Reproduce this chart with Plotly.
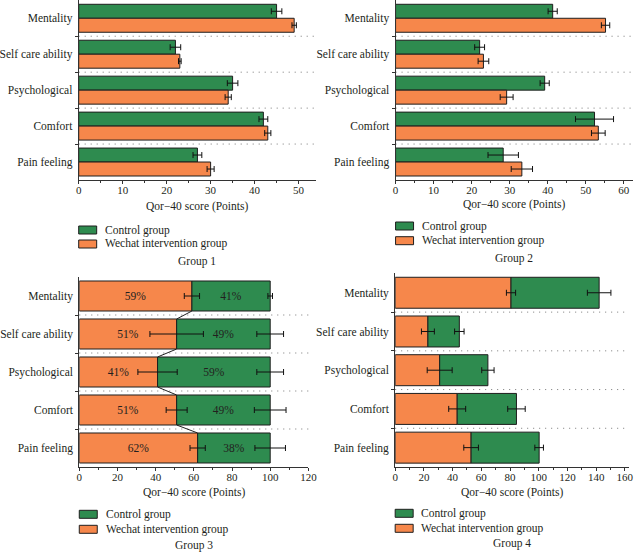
import plotly.graph_objects as go

# ---------------- data ----------------
categories = ["Mentality", "Self care ability", "Psychological", "Comfort", "Pain feeling"]
series_names = ["Control group", "Wechat intervention group"]

g1_control = [45, 22, 35, 42, 27]
g1_control_err = [1.2, 1.2, 1.2, 1.0, 1.0]
g1_wechat = [49, 23, 34, 43, 30]
g1_wechat_err = [0.5, 0.3, 0.7, 0.7, 0.8]

g2_control = [41.3, 22.1, 39.2, 52.3, 28.3]
g2_control_err = [1.2, 1.3, 1.2, 5.0, 4.0]
g2_wechat = [55.2, 23.1, 29.2, 53.3, 33.2]
g2_wechat_err = [1.1, 1.4, 1.7, 1.8, 2.8]

g3_wechat_pct = [59, 51, 41, 51, 62]
g3_wechat_err = [4, 14, 10.3, 5.5, 4]
g3_control_pct = [41, 49, 59, 49, 38]
g3_control_err = [1.2, 7, 7, 8.3, 8]

g4_wechat = [80.7, 22.8, 31.0, 43.2, 52.9]
g4_wechat_err = [3.2, 4.5, 8.7, 5.9, 5.1]
g4_control = [61.4, 21.9, 33.6, 41.3, 47.4]
g4_control_err = [8.2, 3.3, 4.3, 6.1, 3.0]

panel_titles = ["Group 1", "Group 2", "Group 3", "Group 4"]
axis_title = "Qor\u221240 score (Points)"

# ---------------- style ----------------
W, H = 643, 552
GREEN = "#2E8B4F"
ORANGE = "#F6874B"
EDGE = "#1e1e1e"
TXT = "#231F20"
FONT = "Liberation Serif"
FS = 11.5


def X(px):
    return px / W


def Y(py):
    return 1 - py / H


pos = list(range(len(categories)))
fig = go.Figure()

# panel geometry in pixels: (left, right, top, bottom)
panels = [
    (71.7, 316.0, 0.3, 180.0),
    (397.7, 642.3, 0.3, 180.0),
    (72.3, 308.0, 277.0, 467.0),
    (397.3, 638.0, 273.4, 467.0),
]
xranges = [[0, 54], [0, 62.5], [0, 120], [0, 163]]
dticks = [10, 10, 20, 20]
# legend / caption vertical offsets below each axis (pixels)
legend_off = [(50, 64, 81.5), (46, 60.7, 78.7), (47.3, 62.3, 78), (46.3, 61.3, 76.3)]
title_off = [26.5, 24, 25, 25]


def err_trace(xv, yv, ev, xa, ya):
    return go.Scatter(
        x=xv, y=yv, mode="markers", marker=dict(size=1, opacity=0),
        error_x=dict(type="data", array=ev, visible=True, color="#111",
                     thickness=1, width=3),
        xaxis=xa, yaxis=ya, showlegend=False, hoverinfo="skip")


# ---- grouped panels (1,2) ----
grouped = [
    (g1_control, g1_control_err, g1_wechat, g1_wechat_err),
    (g2_control, g2_control_err, g2_wechat, g2_wechat_err),
]
gw = 0.389
for k, (c, ce, w, we) in enumerate(grouped):
    xa = "x" if k == 0 else f"x{k+1}"
    ya = "y" if k == 0 else f"y{k+1}"
    fig.add_trace(go.Bar(x=c, y=pos, orientation="h", width=gw, offset=-gw,
                         marker=dict(color=GREEN, line=dict(color=EDGE, width=1)),
                         name=series_names[0], xaxis=xa, yaxis=ya, showlegend=False))
    fig.add_trace(go.Bar(x=w, y=pos, orientation="h", width=gw, offset=0,
                         marker=dict(color=ORANGE, line=dict(color=EDGE, width=1)),
                         name=series_names[1], xaxis=xa, yaxis=ya, showlegend=False))
    fig.add_trace(err_trace(c, [p - gw / 2 for p in pos], ce, xa, ya))
    fig.add_trace(err_trace(w, [p + gw / 2 for p in pos], we, xa, ya))

# ---- stacked panel 3 (percent) ----
sw3 = 0.79
fig.add_trace(go.Bar(x=g3_wechat_pct, y=pos, orientation="h", width=sw3,
                     marker=dict(color=ORANGE, line=dict(color=EDGE, width=1)),
                     text=[f"{v}%" for v in g3_wechat_pct], textposition="inside",
                     insidetextanchor="middle", textangle=0,
                     textfont=dict(family=FONT, size=FS, color=TXT),
                     name=series_names[1], xaxis="x3", yaxis="y3", showlegend=False))
fig.add_trace(go.Bar(x=g3_control_pct, y=pos, base=g3_wechat_pct, orientation="h", width=sw3,
                     marker=dict(color=GREEN, line=dict(color=EDGE, width=1)),
                     text=[f"{v}%" for v in g3_control_pct], textposition="inside",
                     insidetextanchor="middle", textangle=0,
                     textfont=dict(family=FONT, size=FS, color=TXT),
                     name=series_names[0], xaxis="x3", yaxis="y3", showlegend=False))
fig.add_trace(err_trace(g3_wechat_pct, pos, g3_wechat_err, "x3", "y3"))
g3_tot = [a + b for a, b in zip(g3_wechat_pct, g3_control_pct)]
fig.add_trace(err_trace(g3_tot, pos, g3_control_err, "x3", "y3"))
# connector lines between split points
cx, cy = [], []
for i in range(len(pos) - 1):
    cx += [g3_wechat_pct[i], g3_wechat_pct[i + 1], None]
    cy += [pos[i] + sw3 / 2, pos[i + 1] - sw3 / 2, None]
fig.add_trace(go.Scatter(x=cx, y=cy, mode="lines", line=dict(color="#222", width=1),
                         xaxis="x3", yaxis="y3", showlegend=False, hoverinfo="skip"))

# ---- stacked panel 4 (absolute) ----
sw4 = 0.8
fig.add_trace(go.Bar(x=g4_wechat, y=pos, orientation="h", width=sw4,
                     marker=dict(color=ORANGE, line=dict(color=EDGE, width=1)),
                     name=series_names[1], xaxis="x4", yaxis="y4", showlegend=False))
fig.add_trace(go.Bar(x=g4_control, y=pos, base=g4_wechat, orientation="h", width=sw4,
                     marker=dict(color=GREEN, line=dict(color=EDGE, width=1)),
                     name=series_names[0], xaxis="x4", yaxis="y4", showlegend=False))
fig.add_trace(err_trace(g4_wechat, pos, g4_wechat_err, "x4", "y4"))
g4_tot = [a + b for a, b in zip(g4_wechat, g4_control)]
fig.add_trace(err_trace(g4_tot, pos, g4_control_err, "x4", "y4"))

# ---------------- axes ----------------
layout = dict(
    width=W, height=H, margin=dict(l=0, r=0, t=0, b=0),
    paper_bgcolor="white", plot_bgcolor="white",
    barmode="overlay", showlegend=False,
    font=dict(family=FONT, size=FS, color=TXT),
)
shapes, annotations = [], []
n = len(categories)
for k, (l, r, t, b) in enumerate(panels):
    sfx = "" if k == 0 else str(k + 1)
    layout["xaxis" + sfx] = dict(
        domain=[X(l), X(r)], range=xranges[k], anchor="y" + sfx,
        showline=True, linecolor="#333", linewidth=1, showgrid=False, zeroline=False,
        ticks="outside", ticklen=3, tickcolor="#333", dtick=dticks[k], tick0=0,
        ticklabelstandoff=-3,
        minor=dict(ticks="outside", ticklen=2, dtick=dticks[k] / 2, tickcolor="#333"),
        tickfont=dict(family=FONT, size=11, color=TXT), fixedrange=True)
    layout["yaxis" + sfx] = dict(
        domain=[Y(b), Y(t)], range=[n - 0.5, -0.5], anchor="x" + sfx,
        showline=True, linecolor="#333", linewidth=1, showgrid=False, zeroline=False,
        tickvals=pos, ticktext=categories, ticks="", ticklabelstandoff=3,
        minor=dict(tickvals=[p + 0.5 for p in pos[:-1]], ticks="outside", ticklen=3,
                   tickcolor="#333"),
        tickfont=dict(family=FONT, size=FS, color=TXT), fixedrange=True)
    for p in pos[:-1]:
        shapes.append(dict(type="line", xref=f"x{sfx} domain", yref="y" + sfx,
                           x0=0, x1=1, y0=p + 0.5, y1=p + 0.5,
                           line=dict(color="#777777", width=1, dash="1px,5px"), layer="below"))
    cxp = (l + r) / 2
    # axis title
    annotations.append(dict(xref="paper", yref="paper", x=X(cxp), y=Y(b + title_off[k]),
                            text=axis_title, showarrow=False, xanchor="center",
                            yanchor="middle", font=dict(family=FONT, size=FS, color=TXT)))
    # legend swatches and text
    lo = legend_off[k]
    for j, (nm, col) in enumerate([(series_names[0], GREEN), (series_names[1], ORANGE)]):
        yc = b + lo[j]
        shapes.append(dict(type="rect", xref="paper", yref="paper",
                           x0=X(l), x1=X(l + 18.5), y0=Y(yc + 4), y1=Y(yc - 4),
                           fillcolor=col, line=dict(color=EDGE, width=1)))
        annotations.append(dict(xref="paper", yref="paper", x=X(l + 25), y=Y(yc),
                                text=nm, showarrow=False, xanchor="left", yanchor="middle",
                                font=dict(family=FONT, size=FS, color=TXT)))
    annotations.append(dict(xref="paper", yref="paper", x=X(cxp), y=Y(b + lo[2]),
                            text=panel_titles[k], showarrow=False, xanchor="center",
                            yanchor="middle", font=dict(family=FONT, size=FS, color=TXT)))

layout["shapes"] = shapes
layout["annotations"] = annotations
fig.update_layout(**layout)
fig.write_html(
    "out.html",
    config={"displayModeBar": False},
    post_script="document.body.style.margin='0';document.body.style.overflow='hidden';",
)
